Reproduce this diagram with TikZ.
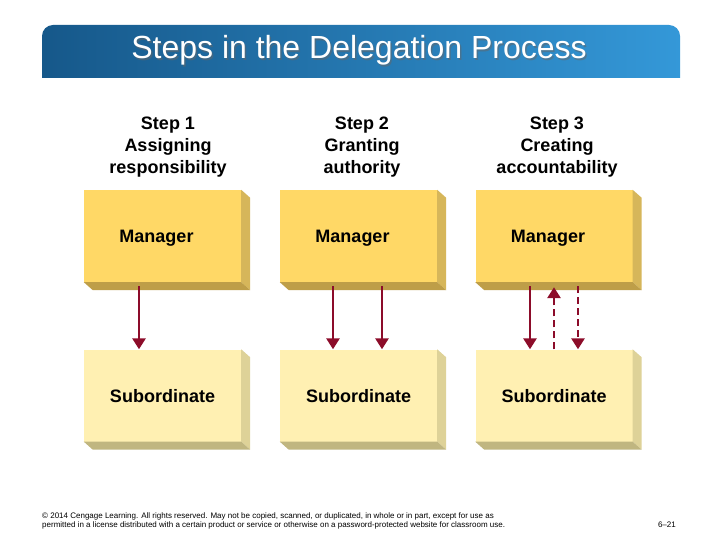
\documentclass[tikz,border=0pt]{standalone}
\usepackage{fontspec}
\setmainfont{Liberation Sans}
\usetikzlibrary{arrows.meta,calc}
\definecolor{mgrface}{RGB}{255,216,102}
\definecolor{mgrside}{RGB}{214,182,90}
\definecolor{mgrbot}{RGB}{190,158,72}
\definecolor{subface}{RGB}{255,240,178}
\definecolor{subside}{RGB}{222,210,152}
\definecolor{subbot}{RGB}{192,182,128}
\definecolor{arrred}{RGB}{140,12,42}
\definecolor{bannerL}{RGB}{22,88,138}
\definecolor{bannerM}{RGB}{20,108,168}
\definecolor{bannerR}{RGB}{52,152,216}
\newcommand\mkextrude[3]{%
  \fill[#2] (#1.north east) -- ++(9,8) -- ($(#1.south east)+(9,8)$) -- (#1.south east) -- cycle;
  \fill[#3] (#1.south west) -- (#1.south east) -- ++(9,8) -- ($(#1.south west)+(9,8)$) -- cycle;}
\begin{document}
\begin{tikzpicture}[x=1pt,y=-1pt,
  face/.style={minimum width=157pt, minimum height=92pt, inner sep=0pt,
    text height=13pt, text depth=0pt,
    font=\fontsize{18}{22}\selectfont\bfseries},
  mgr/.style={face, fill=mgrface},
  sub/.style={face, fill=subface},
  steplbl/.style={align=center, font=\fontsize{18}{22}\selectfont\bfseries},
  arr/.style={draw=arrred, line width=2.8pt, -{Triangle[width=13pt,length=11pt]}},
  dasharr/.style={arr, dash pattern=on 7pt off 4pt},
  footfont/.style={font=\fontsize{8}{9}\selectfont, inner sep=0pt},
]
\useasboundingbox[fill=white] (0,0) rectangle (720,540);
% banner
\begin{scope}
  \clip (0,0) rectangle (720,78);
  \shade[left color=bannerL, middle color=bannerM, right color=bannerR, rounded corners=11pt]
    (42,25) rectangle (680,100);
\end{scope}
\node[font=\fontsize{32}{36}\selectfont, text=black!60, anchor=base, opacity=0.5] at (360.5,60.5) {Steps in the Delegation Process};
\node[font=\fontsize{32}{36}\selectfont, text=white, anchor=base] (title) at (359,59) {Steps in the Delegation Process};

% step labels
\node[steplbl] (st1) at (168,147) {Step 1\\Assigning\\responsibility};
\node[steplbl] (st2) at (362,147) {Step 2\\Granting\\authority};
\node[steplbl] (st3) at (557,147) {Step 3\\Creating\\accountability};

% boxes
\node[mgr] (m1) at (162.5,236) {Manager\hspace*{12pt}};
\node[mgr] (m2) at (358.5,236) {Manager\hspace*{12pt}};
\node[mgr] (m3) at (554,236) {Manager\hspace*{12pt}};
\node[sub] (s1) at (162.5,395.5) {Subordinate};
\node[sub] (s2) at (358.5,395.5) {Subordinate};
\node[sub] (s3) at (554,395.5) {Subordinate};
\mkextrude{m1}{mgrside}{mgrbot}
\mkextrude{m2}{mgrside}{mgrbot}
\mkextrude{m3}{mgrside}{mgrbot}
\mkextrude{s1}{subside}{subbot}
\mkextrude{s2}{subside}{subbot}
\mkextrude{s3}{subside}{subbot}

% arrows
\draw[arr] ([xshift=-23.5pt,yshift=-4pt]m1.south) -- ([xshift=-23.5pt]s1.north);
\draw[arr] ([xshift=-25.5pt,yshift=-4pt]m2.south) -- ([xshift=-25.5pt]s2.north);
\draw[arr] ([xshift=23.5pt,yshift=-4pt]m2.south) -- ([xshift=23.5pt]s2.north);
\draw[arr] ([xshift=-24pt,yshift=-4pt]m3.south) -- ([xshift=-24pt]s3.north);
\draw[dasharr] (s3.north) -- ([yshift=-5pt]m3.south);
\draw[dasharr] ([xshift=24pt,yshift=-4pt]m3.south) -- ([xshift=24pt]s3.north);

% footer
\node[footfont, anchor=base west, align=left] (foot) at (42,527)
  {© 2014 Cengage Learning. All rights reserved. May not be copied, scanned, or duplicated, in whole or in part, except for use as\\
   permitted in a license distributed with a certain product or service or otherwise on a password-protected website for classroom use.};
\node[footfont, anchor=base east] (pg) at (676,527) {6–21};
\end{tikzpicture}
\end{document}
